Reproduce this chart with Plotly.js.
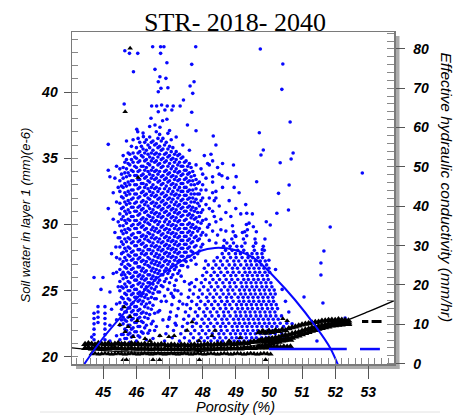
<!DOCTYPE html>
<html><head><meta charset="utf-8">
<script src="https://cdn.plot.ly/plotly-3.0.1.min.js"></script>
<style>html,body{margin:0;padding:0;background:#fff}#chart{width:455px;height:417px}</style>
</head><body><div id="chart"></div>
<script>
// ---- Soil water (left axis) : dense blue cloud, per porosity column ----
const blueColX = [45.5,45.6,45.7,45.8,45.9,46.0,46.1,46.2,46.3,46.4,46.5,46.6,46.7,46.8,46.9,47.0,47.1,47.2,47.3,47.4,47.5,47.6,47.7,47.8,47.9,48.0,48.1,48.2,48.3,48.4];
const blueColY = [
 [21.3,22.4,23.2,24.1,25.0,25.7,26.6,27.4,28.3,29.0,29.9,30.8,31.6,32.5,33.3,34.2],
 [21.0,21.7,22.5,23.0,23.8,24.4,25.2,25.9,26.4,27.2,27.9,28.5,29.3,29.9,30.6,31.3,32.0,32.8,33.5,34.3,35.2],
 [21.4,22.0,22.7,23.4,24.0,24.7,25.3,26.0,26.7,27.3,28.0,28.7,29.4,30.1,30.8,31.5,32.2,32.9,33.6,34.2,34.9,36.3],
 [21.1,21.8,22.4,23.1,23.7,24.3,25.0,25.6,26.3,26.9,27.6,28.2,28.9,29.6,30.3,30.9,31.6,32.3,33.0,33.7,34.5,35.3],
 [21.6,22.2,22.9,23.5,24.1,24.8,25.4,26.1,26.7,27.4,28.0,28.7,29.3,30.0,30.6,31.3,32.0,32.6,33.3,34.0,34.7,35.4,36.4],
 [21.2,21.9,22.6,23.2,23.8,24.5,25.1,25.8,26.4,27.1,27.7,28.4,29.0,29.7,30.3,31.0,31.7,32.3,33.0,33.7,34.3,35.0,35.8],
 [21.5,22.3,23.0,23.6,24.3,24.9,25.6,26.2,26.8,27.5,28.1,28.8,29.4,30.1,30.8,31.4,32.1,32.8,33.4,34.1,34.8,35.5,36.2],
 [21.8,22.6,23.4,24.2,24.8,25.5,26.1,26.7,27.3,28.0,28.6,29.2,29.9,30.5,31.2,31.8,32.5,33.1,33.8,34.4,35.1,35.7,36.9],
 [21.3,22.4,23.3,24.0,24.7,25.3,25.9,26.5,27.2,27.8,28.4,29.1,29.7,30.4,31.0,31.7,32.3,33.0,33.6,34.3,34.9,35.6,36.4],
 [22.0,23.2,24.1,24.9,25.6,26.2,26.8,27.4,28.1,28.7,29.3,30.0,30.6,31.2,31.9,32.5,33.2,33.8,34.5,35.1,35.8,36.6,37.4],
 [21.4,22.7,23.9,24.8,25.5,26.1,26.7,27.3,28.0,28.6,29.2,29.8,30.5,31.1,31.7,32.4,33.0,33.7,34.3,35.0,35.6,36.3],
 [22.3,24.4,25.3,26.0,26.6,27.2,27.8,28.4,29.0,29.7,30.3,30.9,31.6,32.2,32.8,33.5,34.1,34.8,35.4,36.1,37.0],
 [21.6,23.5,24.9,25.8,26.5,27.1,27.7,28.3,28.9,29.5,30.2,30.8,31.4,32.0,32.7,33.3,34.0,34.6,35.3,35.9,36.8],
 [22.8,25.3,26.2,26.9,27.5,28.1,28.7,29.3,29.9,30.6,31.2,31.8,32.4,33.1,33.7,34.4,35.0,35.7,36.5],
 [24.2,25.9,26.7,27.3,27.9,28.5,29.1,29.7,30.4,31.0,31.6,32.2,32.9,33.5,34.1,34.8,35.4,36.2],
 [23.0,25.6,26.5,27.2,27.8,28.4,29.0,29.6,30.2,30.8,31.4,32.0,32.7,33.3,33.9,34.6,35.2,35.9,37.1],
 [24.6,26.2,27.0,27.6,28.2,28.8,29.4,30.0,30.6,31.2,31.9,32.5,33.1,33.7,34.4,35.0,35.8],
 [22.4,25.8,26.8,27.5,28.1,28.7,29.3,29.9,30.5,31.1,31.7,32.3,33.0,33.6,34.2,34.9,35.5,36.6],
 [26.5,27.3,27.9,28.5,29.1,29.7,30.3,30.9,31.5,32.2,32.8,33.4,34.0,34.7,35.3],
 [24.0,26.9,27.6,28.2,28.8,29.4,30.0,30.7,31.3,31.9,32.5,33.1,33.8,34.4,35.1,36.0],
 [27.2,27.9,28.5,29.1,29.7,30.4,31.0,31.6,32.2,32.8,33.5,34.1,34.8],
 [25.5,27.6,28.3,28.9,29.5,30.1,30.8,31.4,32.0,32.6,33.3,33.9,34.6,35.6],
 [27.9,28.7,29.4,30.0,30.7,31.3,32.0,32.6,33.3,34.0],
 [27.0,28.4,29.1,29.8,30.5,31.2,31.9,32.7,33.4,34.5],
 [28.0,28.9,29.7,30.6,31.4,32.3,33.2],
 [28.5,29.4,30.3,31.1,32.0,33.0],
 [29.2,30.4,31.5,32.6],
 [28.8,30.0,31.2],
 [29.5,31.0,32.4,33.6],
 [28.6,30.2,32.0]
];
// interleaved columns of the same dense cloud
const blueCol2X = [45.55,45.65,45.75,45.85,45.95,46.05,46.15,46.25,46.35,46.45,46.55,46.65,46.75,46.85,46.95,47.05,47.15,47.25,47.35,47.45,47.55,47.65,47.75,47.85,47.95];
const blueCol2Y = [
 [21.7,22.8,23.6,24.5,25.3,26.2,27.0,27.8,28.7,29.5,30.4,31.2,32.1,32.9,33.8],
 [21.4,22.1,22.8,23.4,24.1,24.8,25.5,26.2,26.8,27.5,28.2,28.9,29.6,30.3,31.0,31.7,32.4,33.1,33.9,34.7],
 [21.7,22.4,23.0,23.7,24.4,25.0,25.7,26.4,27.0,27.7,28.3,29.0,29.7,30.4,31.1,31.8,32.5,33.2,33.9,34.6,35.4],
 [21.5,22.1,22.8,23.4,24.0,24.7,25.3,26.0,26.6,27.3,27.9,28.6,29.2,29.9,30.6,31.3,31.9,32.6,33.3,34.1,34.9,35.9],
 [21.9,22.6,23.2,23.8,24.5,25.1,25.8,26.4,27.1,27.7,28.4,29.0,29.7,30.3,31.0,31.6,32.3,33.0,33.7,34.4,35.1],
 [21.6,22.3,22.9,23.5,24.2,24.8,25.5,26.1,26.8,27.4,28.1,28.7,29.4,30.0,30.7,31.3,32.0,32.7,33.4,34.0,34.7,35.4,36.5],
 [21.9,22.7,23.3,24.0,24.6,25.3,25.9,26.5,27.2,27.8,28.5,29.1,29.8,30.4,31.1,31.7,32.4,33.1,33.7,34.4,35.2,35.9],
 [22.2,23.0,23.8,24.5,25.1,25.8,26.4,27.0,27.7,28.3,28.9,29.6,30.2,30.9,31.5,32.2,32.8,33.5,34.1,34.8,35.4,36.2],
 [21.8,22.9,23.7,24.4,25.0,25.6,26.2,26.9,27.5,28.1,28.8,29.4,30.1,30.7,31.4,32.0,32.7,33.3,34.0,34.6,35.3,36.0],
 [22.5,23.6,24.5,25.2,25.9,26.5,27.1,27.8,28.4,29.0,29.6,30.3,30.9,31.6,32.2,32.8,33.5,34.1,34.8,35.4,36.2],
 [22.0,23.3,24.4,25.1,25.8,26.4,27.0,27.6,28.3,28.9,29.5,30.2,30.8,31.4,32.1,32.7,33.4,34.0,34.7,35.3,36.0],
 [23.4,24.9,25.6,26.3,26.9,27.5,28.1,28.7,29.4,30.0,30.6,31.3,31.9,32.5,33.2,33.8,34.5,35.1,35.8,36.5],
 [24.2,25.4,26.2,26.8,27.4,28.0,28.6,29.2,29.8,30.5,31.1,31.7,32.3,33.0,33.6,34.3,34.9,35.6,36.3],
 [24.6,25.7,26.5,27.2,27.8,28.4,29.0,29.6,30.2,30.9,31.5,32.1,32.7,33.4,34.0,34.7,35.3,36.0],
 [25.1,26.3,27.0,27.6,28.2,28.8,29.4,30.0,30.7,31.3,31.9,32.5,33.2,33.8,34.4,35.1,35.7],
 [24.8,26.0,26.8,27.5,28.1,28.7,29.3,29.9,30.5,31.1,31.7,32.3,33.0,33.6,34.2,34.9,35.5,36.4],
 [25.4,26.6,27.3,27.9,28.5,29.1,29.7,30.3,30.9,31.5,32.2,32.8,33.4,34.0,34.7,35.3],
 [25.0,26.3,27.2,27.8,28.4,29.0,29.6,30.2,30.8,31.4,32.0,32.6,33.3,33.9,34.5,35.2],
 [26.1,26.9,27.6,28.2,28.8,29.4,30.0,30.6,31.2,31.8,32.5,33.1,33.7,34.4,35.0],
 [25.7,27.3,27.9,28.5,29.1,29.7,30.3,31.0,31.6,32.2,32.8,33.4,34.1,34.7],
 [26.8,27.6,28.2,28.8,29.4,30.0,30.7,31.3,31.9,32.5,33.2,33.8,34.4],
 [27.3,28.0,28.6,29.2,29.8,30.5,31.1,31.7,32.3,33.0,33.6,34.3],
 [27.5,28.3,29.0,29.7,30.4,31.0,31.7,32.3,33.0,33.7],
 [27.8,28.8,29.5,30.2,30.9,31.6,32.3,33.1],
 [28.3,29.2,30.1,30.9,31.8,32.6]
];
// scattered blue points (outliers / edges)
const blueOutX = [45.65,45.79,46.04,46.49,46.73,46.83,47.79,46.73,49.74,50.42,50.39,46.92,45.91,46.56,47.67,46.71,46.89,46.66,46.74,46.95,46.66,47.62,47.74,47.70,45.63,46.46,46.61,46.76,46.93,47.11,47.32,47.42,46.86,47.07,46.66,47.67,46.44,46.92,46.79,46.56,47.54,46.01,46.04,46.71,46.95,46.21,47.80,45.15,48.32,48.40,49.71,49.83,49.76,50.34,50.29,50.59,49.92,49.63,48.93,49.01,48.58,49.33,49.53,50.04,50.24,
  50.64,50.73,50.67,52.82,50.61,51.85,51.66,51.57,51.57,51.63,51.06,52.30,51.45];
const blueOutY = [43.12,42.92,42.92,43.42,43.42,43.42,43.42,42.92,43.25,42.11,40.20,42.21,41.53,41.71,42.09,41.15,41.03,40.78,40.28,40.32,40.02,40.45,40.78,39.90,39.09,38.94,38.94,39.02,38.94,38.94,38.94,39.40,38.64,38.64,38.51,38.47,38.02,37.94,37.83,37.51,37.51,37.18,37.00,37.34,36.88,36.63,37.08,36.05,36.68,36.00,36.93,35.62,35.25,34.66,32.35,31.09,30.21,33.23,34.49,33.61,33.68,30.85,29.83,29.96,30.85,
  37.74,35.40,34.94,33.89,32.98,29.81,28.00,27.09,26.19,24.08,24.53,22.94,21.21];
const blueLeftX = [44.72,44.72,44.72,44.72,44.72,44.72,44.72,44.84,44.84,44.84,44.84,45.05,45.05,45.05,45.05,45.05,45.05,45.05,45.05,44.72,44.93,44.99,45.15,45.2,45.35,45.4,45.35,45.38,45.4,45.2,45.2,45.25,45.2,45.3,45.25,45.3,45.15,45.3,45.4,45.4,45.4,45.45,45.4,45.45,45.45,45.45,45.4,44.55,44.6,44.65];
const blueLeftY = [20.9,21.3,21.7,22.1,22.5,22.9,23.3,22.6,23.0,23.4,23.8,20.9,21.3,21.7,22.1,22.5,22.9,23.3,23.8,26.0,25.1,26.0,34.1,33.6,33.5,31.7,29.4,28.3,27.5,21.2,22.4,23.6,24.9,26.3,27.8,30.4,31.2,32.4,21.6,22.8,24.0,25.3,26.4,29.0,30.2,32.8,34.4,20.7,21.0,21.5];
const blueMidX = [48.3,48.4,48.5,48.35,48.6,48.7,48.8,48.55,48.9,49.0,48.45,48.75,48.2,48.25,49.1,49.3,49.4,49.2,48.65,49.6,49.8,50.0,50.2,50.4,50.5,50.6,50.7,
  48.0,48.1,48.15,48.05,47.95,48.3,48.5,48.6,48.2,48.35,48.45,48.55,48.7,48.85,49.0,49.15,49.35,49.5,48.95,48.15];
const blueMidY = [33.2,32.5,31.4,30.6,32.8,30.9,31.8,29.6,29.9,31.2,34.3,33.5,34.5,35.3,32.4,31.5,30.1,29.4,28.8,28.6,28.1,27.3,26.6,25.1,24.2,23.4,22.5,
  33.8,33.5,34.6,35.2,34.2,34.8,33.8,34.6,32.0,31.8,29.2,30.4,29.5,30.6,29.1,30.8,29.6,30.8,32.8,29.8];
// slanted streaks of blue points (y levels shared within a set, x per streak)
const streakLevels = [21.2,21.75,22.3,22.85,23.4,23.95,24.5,25.05,25.6,26.15,26.7,27.25,27.8,28.35,28.9,29.45,30.0];
const streakX = [
 [46.85,46.89,46.94,46.98,47.03,47.07,47.12,47.16],
 [47.30,47.34,47.39,47.43,47.48,47.52,47.57,47.61,47.66],
 [47.60,47.64,47.69,47.73,47.78,47.82,47.87,47.91,47.96,48.00,48.05,48.09],
 [47.85,47.89,47.94,47.98,48.03,48.07,48.12,48.16,48.21,48.25,48.30,48.34],
 [48.05,48.09,48.14,48.18,48.23,48.27,48.32,48.36,48.41,48.45,48.50,48.54,48.59,48.63],
 [48.25,48.29,48.34,48.38,48.43,48.47,48.52,48.56,48.61,48.65,48.70,48.74,48.79,48.83,48.88,48.92],
 [48.45,48.49,48.54,48.58,48.63,48.67,48.72,48.76,48.81,48.85,48.90,48.94,48.99,49.03],
 [48.60,48.64,48.69,48.73,48.78,48.82,48.87,48.91,48.96,49.00,49.05,49.09,49.14,49.18,49.23,49.27,49.32],
 [48.80,48.84,48.89,48.93,48.98,49.02,49.07,49.11,49.16,49.20,49.25,49.29,49.34],
 [48.95,48.99,49.04,49.08,49.13,49.17,49.22,49.26,49.31,49.35,49.40,49.44,49.49,49.53,49.58,49.62],
 [49.10,49.14,49.19,49.23,49.28,49.32,49.37,49.41,49.46,49.50,49.55,49.59,49.64],
 [49.25,49.29,49.34,49.38,49.43,49.47,49.52,49.56,49.61,49.65,49.70,49.74,49.79,49.83,49.88],
 [49.40,49.44,49.49,49.53,49.58,49.62,49.67,49.71,49.76,49.80,49.85,49.89],
 [49.55,49.59,49.64,49.68,49.73,49.77,49.82,49.86,49.91,49.95,50.00],
 [49.70,49.74,49.79,49.83,49.88,49.92,49.97,50.01,50.06],
 [49.85,49.89,49.94,49.98,50.03,50.07,50.12,50.16],
 [50.00,50.04,50.09,50.13,50.18,50.22],
 [50.15,50.19,50.24,50.28],
 [50.35,50.39,50.44]
];
const streakLevels2 = [21.45,22.0,22.55,23.1,23.65,24.2,24.75,25.3,25.85,26.4,26.95,27.5,28.05,28.6,29.15,29.7];
const streakX2 = [
 [47.08,47.12,47.17,47.21,47.26,47.30,47.35],
 [47.45,47.49,47.54,47.58,47.63,47.67,47.72,47.76,47.81],
 [47.72,47.76,47.81,47.85,47.90,47.94,47.99,48.03,48.08,48.12,48.17],
 [47.95,47.99,48.04,48.08,48.13,48.17,48.22,48.26,48.31,48.35,48.40,48.44],
 [48.15,48.19,48.24,48.28,48.33,48.37,48.42,48.46,48.51,48.55,48.60,48.64,48.69,48.73],
 [48.35,48.39,48.44,48.48,48.53,48.57,48.62,48.66,48.71,48.75,48.80,48.84,48.89,48.93,48.98],
 [48.52,48.56,48.61,48.65,48.70,48.74,48.79,48.83,48.88,48.92,48.97,49.01,49.06],
 [48.70,48.74,48.79,48.83,48.88,48.92,48.97,49.01,49.06,49.10,49.15,49.19,49.24,49.28,49.33],
 [48.88,48.92,48.97,49.01,49.06,49.10,49.15,49.19,49.24,49.28,49.33,49.37],
 [49.02,49.06,49.11,49.15,49.20,49.24,49.29,49.33,49.38,49.42,49.47,49.51,49.56,49.60],
 [49.18,49.22,49.27,49.31,49.36,49.40,49.45,49.49,49.54,49.58,49.63,49.67],
 [49.32,49.36,49.41,49.45,49.50,49.54,49.59,49.63,49.68,49.72,49.77,49.81,49.86],
 [49.48,49.52,49.57,49.61,49.66,49.70,49.75,49.79,49.84,49.88,49.93],
 [49.62,49.66,49.71,49.75,49.80,49.84,49.89,49.93,49.98,50.02],
 [49.78,49.82,49.87,49.91,49.96,50.00,50.05,50.09],
 [49.92,49.96,50.01,50.05,50.10,50.14,50.19],
 [50.08,50.12,50.17,50.21,50.26],
 [50.25,50.29,50.34,50.38],
 [50.45,50.49,50.54]
];
// soil-water fitted curve (left axis)
const fitSWX = [44.30,44.90,45.50,46.11,46.71,47.32,47.92,48.37,48.97,49.58,50.19,50.79,51.40,51.85,52.15];
const fitSWY = [19.00,21.13,22.94,24.68,26.11,27.17,28.00,28.23,28.08,27.40,25.96,24.30,22.34,20.68,19.00];

// ---- Effective hydraulic conductivity (right axis) : black points ----
const bandX = [44.45,44.55,44.65,44.75,44.85,44.95,45.05,45.15,45.25,45.35,45.45,45.55,45.65,45.75,45.85,45.95,46.05,46.15,46.25,46.35,46.45,46.55,46.65,46.75,46.85,46.95,47.05,47.15,47.25,47.35,47.45,47.55,47.65,47.75,47.85,47.95,48.05,48.15,48.25,48.35,48.45,48.55,48.65,48.75,48.85,48.95,49.05,49.15,49.25,49.35,49.45,49.55,49.65,49.75,49.85,49.95,50.05,50.15,50.25,50.35,50.45,50.55,50.65];
const bandHi = [4.9,5.1,5.0,4.8,5.2,5.0,4.9,5.1,4.8,5.0,5.2,4.9,5.0,4.8,5.1,4.9,5.0,4.8,5.0,4.7,4.9,4.8,4.7,4.9,4.8,4.6,4.8,4.7,4.6,4.8,4.7,4.6,4.7,4.8,4.6,4.7,4.8,4.9,4.7,4.8,4.9,5.0,4.8,5.0,5.1,4.9,5.2,5.0,5.3,5.1,5.4,5.6,5.5,5.8,5.6,5.9,5.7,6.0,5.8,6.1,5.9,6.2,6.0];
const bandLo = [3.9,4.0,3.8,3.9,4.0,3.8,3.9,3.8,3.9,4.0,3.8,3.9,3.7,3.8,3.9,3.7,3.8,3.7,3.8,3.7,3.6,3.7,3.8,3.6,3.7,3.6,3.7,3.6,3.7,3.6,3.7,3.6,3.7,3.8,3.6,3.7,3.8,3.7,3.8,3.7,3.8,3.9,3.7,3.8,3.9,3.8,3.9,3.8,4.0,3.9,4.0,3.9,4.1,4.0,4.1,4.0,4.2,4.1,4.2,4.1,4.3,4.2,4.3];
const lowLineX = bandX.slice(2, 57);
const lowLineY = [2.5,2.6,2.4,2.5,2.6,2.5,2.4,2.5,2.6,2.5,2.4,2.5,2.6,2.5,2.4,2.5,2.6,2.5,2.4,2.5,2.6,2.5,2.4,2.5,2.6,2.5,2.4,2.5,2.6,2.5,2.4,2.5,2.6,2.5,2.4,2.5,2.6,2.5,2.4,2.5,2.6,2.5,2.4,2.5,2.6,2.5,2.4,2.5,2.6,2.5,2.4,2.5,2.6,2.5,2.4];
const wedgeX = [49.7,49.8,49.9,50.0,50.1,50.2,50.3,50.4,50.5,50.6,50.7,50.8,50.9,51.0,51.1,51.2,51.3,51.4,51.5,51.6,51.7,51.8,51.9,52.0,52.1,52.2,52.3,52.4];
const wedgeHi = [7.9,8.1,7.8,8.3,8.0,8.4,8.2,8.6,8.4,8.9,9.2,9.4,9.6,9.9,10.1,10.2,10.4,10.5,10.6,10.8,10.9,11.0,11.1,11.0,11.2,11.1,11.0,10.9];
const wedgeMid = [5.8,6.0,6.1,6.3,6.4,6.6,6.7,7.0,7.2,7.3,7.6,7.8,8.0,8.3,8.6,8.8,9.1,9.3,9.5,9.7,9.9,10.1,10.2,10.3,10.4,10.5,10.4,10.4];
const wedgeLo = [4.2,4.4,4.6,4.8,5.0,5.3,5.5,5.8,6.0,6.2,6.5,6.8,7.1,7.4,7.7,8.0,8.3,8.5,8.8,9.0,9.2,9.4,9.6,9.7,9.8,9.9,10.0,10.0];
const blackScatX = [45.63,46.02,45.66,45.81,45.75,45.9,45.5,46.71,46.98,47.14,47.53,47.68,47.89,48.28,48.37,48.8,49.82,50.03,50.42,50.55,49.13,46.41,46.26,45.81,45.66,46.05,45.6,45.7,46.5,46.7,47.9,49.9];
const blackScatY = [14.4,10.9,8.1,11.9,9.4,6.8,9.9,7.1,6.8,7.1,8.4,10.6,5.8,7.1,8.4,5.8,8.4,8.1,11.4,10.9,6.6,5.8,6.3,80.2,64.0,47.3,1.0,1.0,1.0,1.0,1.0,1.0];
// conductivity fitted curve (right axis)
const fitKX = [44.05,45,46,47,48,49,50,51,52,53,53.78];
const fitKY = [4.0,3.3,2.9,2.8,3.1,3.9,5.3,7.3,9.9,13.2,16.0];
// reference levels (right axis)
const blueRefX = [50.0,52.35,null,52.75,53.35];
const blueRefY = [3.7,3.7,null,3.7,3.7];
const blackRefX = [52.81,53.0,null,53.1,53.4];
const blackRefY = [10.7,10.7,null,10.7,10.7];

// build blue point arrays
const bx = [], by = [];
blueColX.forEach((x,i)=>blueColY[i].forEach(y=>{bx.push(x);by.push(y);}));
blueCol2X.forEach((x,i)=>blueCol2Y[i].forEach(y=>{bx.push(x);by.push(y);}));
const sx = [], sy = [];
streakX.forEach(s=>s.forEach((x,j)=>{sx.push(x);sy.push(streakLevels[j]);}));
streakX2.forEach(s=>s.forEach((x,j)=>{sx.push(x);sy.push(streakLevels2[j]);}));

const BLUE = 'rgb(8,8,255)';
const bm = {color:BLUE, size:3.6, line:{width:0}};
const tm = {color:'#000', size:7, symbol:'triangle-up', line:{width:0}};

const traces = [
 {x:bx, y:by, mode:'markers', marker:bm, yaxis:'y'},
 {x:blueOutX.concat(blueLeftX, blueMidX), y:blueOutY.concat(blueLeftY, blueMidY), mode:'markers', marker:bm, yaxis:'y'},
 {x:sx, y:sy, mode:'markers', marker:bm, yaxis:'y'},
 {x:bandX, y:bandHi, mode:'markers', marker:tm, yaxis:'y2'},
 {x:bandX, y:bandLo, mode:'markers', marker:tm, yaxis:'y2'},
 {x:lowLineX, y:lowLineY, mode:'markers', marker:{color:'#000', size:5.5, symbol:'triangle-up', line:{width:0}}, yaxis:'y2'},
 {x:wedgeX, y:wedgeHi, mode:'markers', marker:tm, yaxis:'y2'},
 {x:wedgeX, y:wedgeMid, mode:'markers', marker:tm, yaxis:'y2'},
 {x:wedgeX, y:wedgeLo, mode:'markers', marker:tm, yaxis:'y2'},
 {x:blackScatX, y:blackScatY, mode:'markers', marker:{color:'#000', size:5, symbol:'triangle-up', line:{width:0}}, yaxis:'y2'},
 {x:fitKX, y:fitKY, mode:'lines', line:{color:'#000', width:1.2, shape:'spline'}, yaxis:'y2'},
 {x:blueRefX, y:blueRefY, mode:'lines', line:{color:BLUE, width:2.5}, yaxis:'y2'},
 {x:blackRefX, y:blackRefY, mode:'lines', line:{color:'#000', width:3}, yaxis:'y2'},
 {x:fitSWX, y:fitSWY, mode:'lines', line:{color:BLUE, width:2, shape:'spline'}, yaxis:'y3'}
];

const tickFont = {family:'Liberation Sans, Arial, sans-serif', size:14, color:'#000', weight:'bold', style:'italic'};
const FR = '#7a7a7a';
const L = 72, R = 394, T = 32, B = 364;
const px = v => (v - L)/(R - L);
const py = v => (B - v)/(B - T);

const layout = {
 width:455, height:417,
 margin:{l:72, r:61, t:32, b:53, pad:0},
 paper_bgcolor:'#fff', plot_bgcolor:'#fff',
 showlegend:false,
 xaxis:{range:[44.055,53.776], tickmode:'linear', tick0:45, dtick:1,
   ticks:'outside', ticklen:13, tickcolor:'#555', tickwidth:1,
   showline:true, linecolor:FR, linewidth:1.5, mirror:true, showgrid:false, zeroline:false,
   tickfont:tickFont, ticklabelstandoff:2,
   minor:{tickmode:'linear', tick0:45, dtick:0.2, ticks:'inside', ticklen:6, tickcolor:'#888', tickwidth:1, showgrid:false}},
 yaxis:{range:[19.47,44.53], tickmode:'linear', tick0:20, dtick:5,
   ticks:'outside', ticklen:7, tickcolor:'#555', tickwidth:1,
   showline:true, linecolor:FR, linewidth:1.5, showgrid:false, zeroline:false,
   tickfont:tickFont, ticklabelstandoff:3,
   minor:{tickmode:'linear', tick0:20, dtick:1, ticks:'inside', ticklen:6, tickcolor:'#888', tickwidth:1, showgrid:false}},
 yaxis2:{overlaying:'y', side:'right', range:[-0.1,84.3], tickmode:'linear', tick0:0, dtick:10,
   ticks:'outside', ticklen:9, tickcolor:'#555', tickwidth:1,
   showline:true, linecolor:FR, linewidth:1.5, showgrid:false, zeroline:false,
   tickfont:tickFont, ticklabelstandoff:6,
   minor:{tickmode:'linear', tick0:0, dtick:2, ticks:'inside', ticklen:7, tickcolor:'#888', tickwidth:1, showgrid:false}},
 yaxis3:{overlaying:'y', range:[19.47,44.53], visible:false},
 shapes:[
  {type:'rect', xref:'paper', yref:'paper', x0:px(76), x1:px(399.5), y0:py(369), y1:py(364.6), fillcolor:'#ababab', line:{width:0}, layer:'below'},
  {type:'rect', xref:'paper', yref:'paper', x0:px(394.6), x1:px(399.5), y0:py(369), y1:py(36), fillcolor:'#ababab', line:{width:0}, layer:'below'},
  {type:'line', xref:'paper', yref:'paper', x0:px(40), x1:px(440), y0:py(412), y1:py(412), line:{color:'#e2e2e2', width:1}, layer:'below'}
 ],
 annotations:[
  {text:'STR- 2018- 2040', xref:'paper', yref:'paper', x:px(235), y:py(6), xanchor:'center', yanchor:'top', showarrow:false,
   font:{family:'Liberation Serif, Times New Roman, serif', size:26, color:'#000'}},
  {text:'Soil water in layer 1 (mm)(e-6)', xref:'paper', yref:'paper', x:px(24.5), y:py(215), xanchor:'center', yanchor:'middle', textangle:-90, showarrow:false,
   font:{family:'Liberation Sans, Arial, sans-serif', size:13, color:'#000', style:'italic'}},
  {text:'Effective hydraulic conductivity (mm/hr)', xref:'paper', yref:'paper', x:px(446), y:py(187.5), xanchor:'center', yanchor:'middle', textangle:90, showarrow:false,
   font:{family:'Liberation Sans, Arial, sans-serif', size:15.5, color:'#000', style:'italic'}},
  {text:'Porosity (%)', xref:'paper', yref:'paper', x:px(235), y:py(397), xanchor:'center', yanchor:'top', showarrow:false,
   font:{family:'Liberation Sans, Arial, sans-serif', size:14.5, color:'#000', style:'italic'}}
 ]
};

Plotly.newPlot('chart', traces, layout, {staticPlot:true, displayModeBar:false});
</script></body></html>
